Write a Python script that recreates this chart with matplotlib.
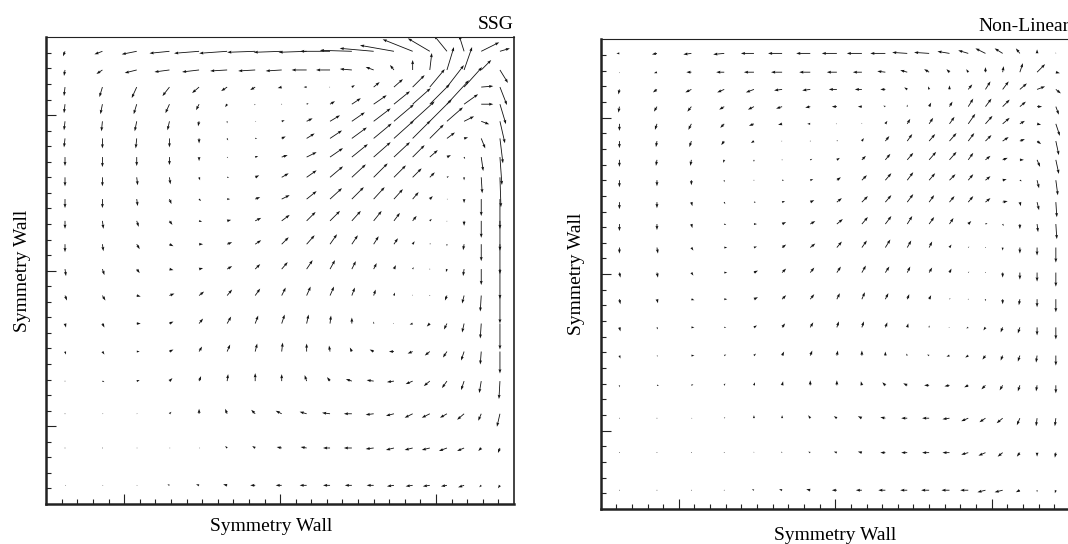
import matplotlib
matplotlib.use('Agg')
import matplotlib.pyplot as plt
from matplotlib.ticker import FixedLocator
import numpy as np

plt.rcParams['font.family'] = ['Liberation Serif', 'DejaVu Serif']

# cell centres, same stretching in both directions (wall at 30, symmetry plane at 0)
grid = [1.2, 3.6, 5.8, 7.9, 9.8, 11.6, 13.4, 15.1, 16.7, 18.2,
        19.6, 21.0, 22.3, 23.5, 24.6, 25.7, 26.8, 27.9, 29.1]

# secondary velocity, rows listed from the top wall down to the bottom symmetry plane
ssg_u = [
    [-2, -8, -15, -20, -25, -28, -28, -28, -28, -30, -32, -34, -34, -30, -22, -13, -5, 18, 10],
    [-1, -6, -12, -15, -17, -17, -17, -16, -15, -14, -12, -8, -4, 0, 2, 7, 8, 10, 8],
    [-1, -3, -5, -7, -7, -6, -5, -4, -3, -1, 3, 6, 9, 12, 15, 17, 18, 12, 7],
    [-1, -2, -3, -4, -3, -2, -1, 0, 2, 5, 9, 13, 16, 18, 20, 22, 14, 12, 6],
    [-1, -1, -2, -2, -1, 0, 1, 3, 6, 10, 13, 17, 20, 22, 22, 16, 10, 8, 5],
    [-1, 0, -1, 0, 0, 1, 2, 4, 8, 12, 15, 18, 20, 18, 14, 8, 4, 4, 3],
    [0, 0, 0, 0, 0, 1, 3, 6, 10, 13, 16, 17, 16, 12, 8, 4, 1, 2, 2],
    [0, 0, 1, 1, 1, 2, 4, 7, 10, 13, 14, 14, 12, 9, 5, 2, 0, 1, 1],
    [0, 0, 1, 2, 2, 3, 5, 8, 10, 12, 12, 11, 9, 6, 3, 1, 0, 0, 0],
    [0, 1, 2, 3, 3, 4, 6, 8, 9, 10, 9, 8, 6, 4, 2, 0, 0, 0, 0],
    [0, 1, 3, 4, 4, 5, 6, 7, 8, 7, 6, 5, 4, 2, 1, 0, -1, 0, 0],
    [1, 2, 3, 4, 4, 5, 5, 6, 6, 5, 4, 3, 2, 1, 0, -1, -1, 0, 0],
    [2, 3, 4, 5, 5, 5, 5, 4, 4, 4, 3, 2, 1, 0, 0, -2, -2, -1, 0],
    [1, 2, 4, 4, 4, 4, 3, 3, 2, 1, 0, 0, -1, -3, -3, -3, -2, -1, 0],
    [1, 2, 3, 4, 3, 3, 2, 1, 0, -1, -2, -4, -5, -5, -5, -4, -3, -1, 0],
    [0, 2, 3, 3, 2, 1, 0, 0, -2, -3, -6, -7, -7, -7, -6, -5, -3, -2, -1],
    [0, 1, 1, 2, 0, -2, -4, -6, -7, -8, -8, -8, -8, -8, -8, -7, -7, -3, -3],
    [0, 0, 1, 1, 1, -2, -3, -5, -6, -7, -8, -8, -8, -8, -8, -8, -7, -3, -2],
    [1, 1, 1, -2, -3, -4, -5, -6, -7, -7, -7, -7, -7, -7, -7, -6, -6, -2, -2],
]
ssg_v = [
    [-5, -3, -3, -2, -2, -2, -1, -1, -1, 0, 1, 3, 6, 12, 13, 16, 16, 9, 3],
    [-6, -4, -3, -2, -2, -1, -1, -1, 0, 0, 1, 3, 5, 10, 17, 23, 23, 10, -13],
    [-9, -10, -11, -9, -6, -4, -3, -1, 0, 0, 2, 5, 8, 12, 18, 22, 20, 1, -18],
    [-9, -10, -10, -9, -6, -3, -1, 0, 1, 3, 6, 9, 13, 16, 20, 24, 10, 0, -20],
    [-9, -10, -10, -9, -5, -2, 0, 1, 3, 6, 9, 13, 17, 20, 22, 14, 5, -3, -22],
    [-9, -10, -10, -9, -5, -2, 0, 2, 5, 8, 11, 15, 18, 18, 14, 6, 1, -10, -25],
    [-9, -10, -9, -8, -4, -1, 1, 2, 5, 9, 13, 15, 15, 12, 7, 2, -2, -14, -28],
    [-9, -9, -8, -7, -3, 0, 2, 4, 7, 11, 13, 14, 12, 9, 5, 1, -3, -16, -30],
    [-9, -9, -7, -5, -2, 0, 2, 4, 8, 11, 12, 12, 10, 7, 3, 0, -4, -17, -30],
    [-8, -8, -6, -4, -1, 1, 3, 6, 9, 10, 10, 10, 8, 5, 2, -1, -5, -17, -30],
    [-8, -7, -5, -2, 0, 2, 4, 7, 9, 10, 9, 8, 6, 3, 1, -2, -6, -17, -30],
    [-7, -6, -4, -1, 1, 3, 5, 7, 9, 9, 8, 6, 4, 2, 0, -3, -7, -16, -30],
    [-5, -5, -1, 2, 4, 6, 7, 8, 9, 9, 8, 6, 3, 1, 0, -5, -8, -16, -28],
    [-4, -4, 0, 2, 5, 7, 8, 9, 9, 8, 6, 2, 0, -1, -3, -6, -9, -15, -26],
    [-3, -3, 0, 2, 5, 7, 8, 9, 8, 6, 4, 2, 0, -2, -4, -6, -9, -13, -22],
    [0, -1, 1, 3, 5, 7, 8, 7, 6, 4, 2, 1, -1, -3, -5, -7, -9, -12, -18],
    [0, 0, 0, 2, 5, 5, 4, 3, 2, 1, 0, -1, -2, -4, -4, -4, -6, -7, -13],
    [0, 0, 0, 0, 0, 2, 2, 1, 1, 0, 0, -1, -2, -2, -2, -3, -3, -3, -5],
    [0, 0, 0, 1, 1, 1, 0, 0, 0, 0, 0, 0, -1, -1, -1, -1, -2, -2, -3],
]

nl_u = [
    [-3, -5, -8, -11, -13, -14, -14, -15, -15, -15, -15, -15, -12, -10, -10, -8, -4, 0, 0],
    [0, -3, -5, -8, -10, -11, -11, -10, -9, -8, -7, -5, -3, -2, 0, 1, 3, 8, 4],
    [-1, -4, -6, -7, -8, -8, -8, -8, -7, -5, -3, -1, 0, 4, 5, 6, 7, 8, 5],
    [-1, -3, -4, -5, -6, -6, -5, -5, -4, -2, 0, 2, 3, 5, 6, 7, 6, 5, 3],
    [0, -2, -3, -4, -5, -4, -3, -1, 0, 2, 3, 4, 5, 7, 7, 7, 5, 4, 4],
    [0, -1, -2, -3, -3, -1, 0, 1, 2, 4, 5, 6, 7, 6, 6, 6, 5, 4, 3],
    [0, -1, -1, -1, 0, 0, 2, 3, 4, 5, 6, 7, 7, 5, 5, 5, 4, 3, 3],
    [0, 0, 0, 0, 0, 2, 3, 4, 5, 6, 6, 6, 6, 5, 5, 4, 2, 2, 2],
    [0, 0, 1, 1, 2, 3, 4, 5, 6, 6, 6, 5, 5, 5, 5, 5, 1, 2, 1],
    [0, 0, 1, 2, 3, 4, 5, 6, 6, 6, 5, 5, 4, 3, 2, 1, 0, 1, 1],
    [0, 1, 2, 3, 3, 4, 5, 5, 5, 5, 4, 3, 2, 1, 0, 0, 0, 0, 0],
    [1, 1, 2, 3, 4, 4, 4, 4, 4, 4, 3, 3, 2, 1, 0, 0, 0, 0, 0],
    [1, 1, 3, 3, 4, 4, 4, 3, 3, 3, 2, 2, 1, 0, 0, 0, -1, 0, 0],
    [1, 1, 3, 2, 3, 3, 3, 2, 2, 2, 1, 0, -1, -2, -2, -2, -2, 0, 0],
    [1, 1, 3, 2, 2, 2, 2, 1, 0, 0, -1, -2, -3, -3, -3, -2, -2, -1, 0],
    [0, 2, 2, 1, 1, 1, 0, 0, -1, -3, -4, -5, -5, -4, -4, -3, -2, -1, 0],
    [0, 0, 1, 1, 0, 0, -2, -3, -4, -5, -6, -7, -7, -7, -6, -6, -3, -1, -1],
    [0, 0, 0, 0, 0, -1, -2, -3, -4, -5, -6, -7, -7, -7, -7, -5, -3, 0, -1],
    [0, 0, 0, 0, -2, -3, -4, -5, -6, -7, -7, -8, -8, -8, -8, -8, -4, 0, -1],
]
nl_v = [
    [0, -1, -1, -1, 0, 0, 0, 0, 0, 0, 1, 1, 2, 3, 5, 5, 5, 4, 1],
    [-1, -1, 0, 0, 0, 0, 0, 0, 0, 1, 2, 3, 3, 3, 5, 6, 9, 8, -1],
    [-5, -3, -3, -3, -3, -1, -1, 0, 0, 0, 2, 3, 4, 5, 8, 8, 6, 3, -4],
    [-6, -5, -5, -3, -3, -2, -1, 0, 0, 1, 2, 4, 5, 8, 8, 7, 5, 0, -8],
    [-7, -6, -6, -4, -2, -1, 0, 0, 1, 3, 5, 6, 7, 10, 8, 6, 3, -1, -12],
    [-7, -6, -6, -4, -2, 0, 0, 1, 3, 5, 7, 7, 8, 8, 6, 4, 2, -3, -14],
    [-7, -6, -6, -3, -2, 0, 1, 2, 4, 6, 7, 8, 8, 7, 4, 2, 0, -7, -14],
    [-7, -6, -5, -2, 0, 0, 1, 3, 5, 7, 8, 7, 6, 6, 4, 1, -1, -8, -15],
    [-7, -6, -4, -2, 0, 1, 2, 4, 6, 7, 8, 7, 6, 6, 4, 1, -4, -8, -15],
    [-7, -6, -4, -1, 0, 2, 3, 5, 7, 8, 8, 7, 6, 3, 1, -2, -5, -8, -15],
    [-6, -6, -3, 0, 1, 3, 4, 6, 7, 8, 7, 6, 3, 1, 0, -3, -6, -8, -15],
    [-5, -5, -3, 0, 2, 4, 5, 6, 7, 6, 6, 5, 4, 1, 0, -5, -7, -9, -14],
    [-5, -4, -1, 0, 2, 4, 5, 6, 7, 6, 5, 4, 1, 0, -2, -5, -6, -8, -13],
    [-4, -2, 0, 0, 2, 4, 5, 6, 6, 5, 4, 2, 0, -1, -3, -5, -6, -8, -12],
    [-3, -1, 0, 1, 2, 4, 5, 5, 5, 4, 2, 1, -1, -2, -4, -5, -6, -7, -10],
    [-2, 0, 1, 2, 3, 4, 5, 5, 4, 3, 2, 0, -1, -2, -4, -5, -6, -6, -8],
    [0, 0, 0, 1, 3, 3, 3, 2, 2, 1, 0, 0, -1, -3, -4, -5, -7, -8, -8],
    [0, 0, 0, 0, 1, 1, 1, 1, 1, 0, 0, 0, 0, -2, -3, -4, -4, -4, -5],
    [0, 0, 0, 0, 1, 1, 1, 0, 0, 0, 0, 0, 0, 0, -2, -2, -2, -2, -3],
]

major_ticks = [5, 15, 25]
minor_ticks = [t for t in range(1, 30) if t not in major_ticks]

fig = plt.figure(figsize=(10.68, 5.44), dpi=100)
ax1 = fig.add_axes([0.04335, 0.07353, 0.4379, 0.8579])
ax2 = fig.add_axes([0.5624, 0.06434, 0.4394, 0.8634])


def draw_panel(ax, u, v, name):
    X, Y = np.meshgrid(grid, grid[::-1])
    ax.quiver(X, Y, np.array(u, float), np.array(v, float),
              pivot='tail', angles='xy', scale_units='xy', scale=15.6,
              width=0.0018, headwidth=3.5, headlength=5, headaxislength=4.5,
              color='#111111')
    ax.set_xlim(0, 30)
    ax.set_ylim(0, 30)
    for axis in (ax.xaxis, ax.yaxis):
        axis.set_major_locator(FixedLocator(major_ticks))
        axis.set_minor_locator(FixedLocator(minor_ticks))
    ax.tick_params(which='both', direction='in', labelbottom=False, labelleft=False,
                   top=False, right=False, color='#222222', width=0.8)
    ax.tick_params(which='major', length=7.5)
    ax.tick_params(which='minor', length=3.8)
    ax.spines['left'].set_linewidth(1.8)
    ax.spines['bottom'].set_linewidth(1.8)
    ax.spines['top'].set_linewidth(0.8)
    ax.spines['right'].set_linewidth(1.2)
    for sp in ax.spines.values():
        sp.set_color('#222222')
    ax.set_xlabel('Symmetry Wall', fontsize=14, labelpad=13)
    ax.set_ylabel('Symmetry Wall', fontsize=14, labelpad=11)
    ax.set_title(name, loc='right', fontsize=14, pad=6)


draw_panel(ax1, ssg_u, ssg_v, 'SSG')
draw_panel(ax2, nl_u, nl_v, 'Non-Linear')

# the left label sits a little left of the panel centre in the original
ax1.xaxis.label.set_x(0.48)
ax1.xaxis.labelpad = 10

fig.savefig('out.png', dpi=100)
